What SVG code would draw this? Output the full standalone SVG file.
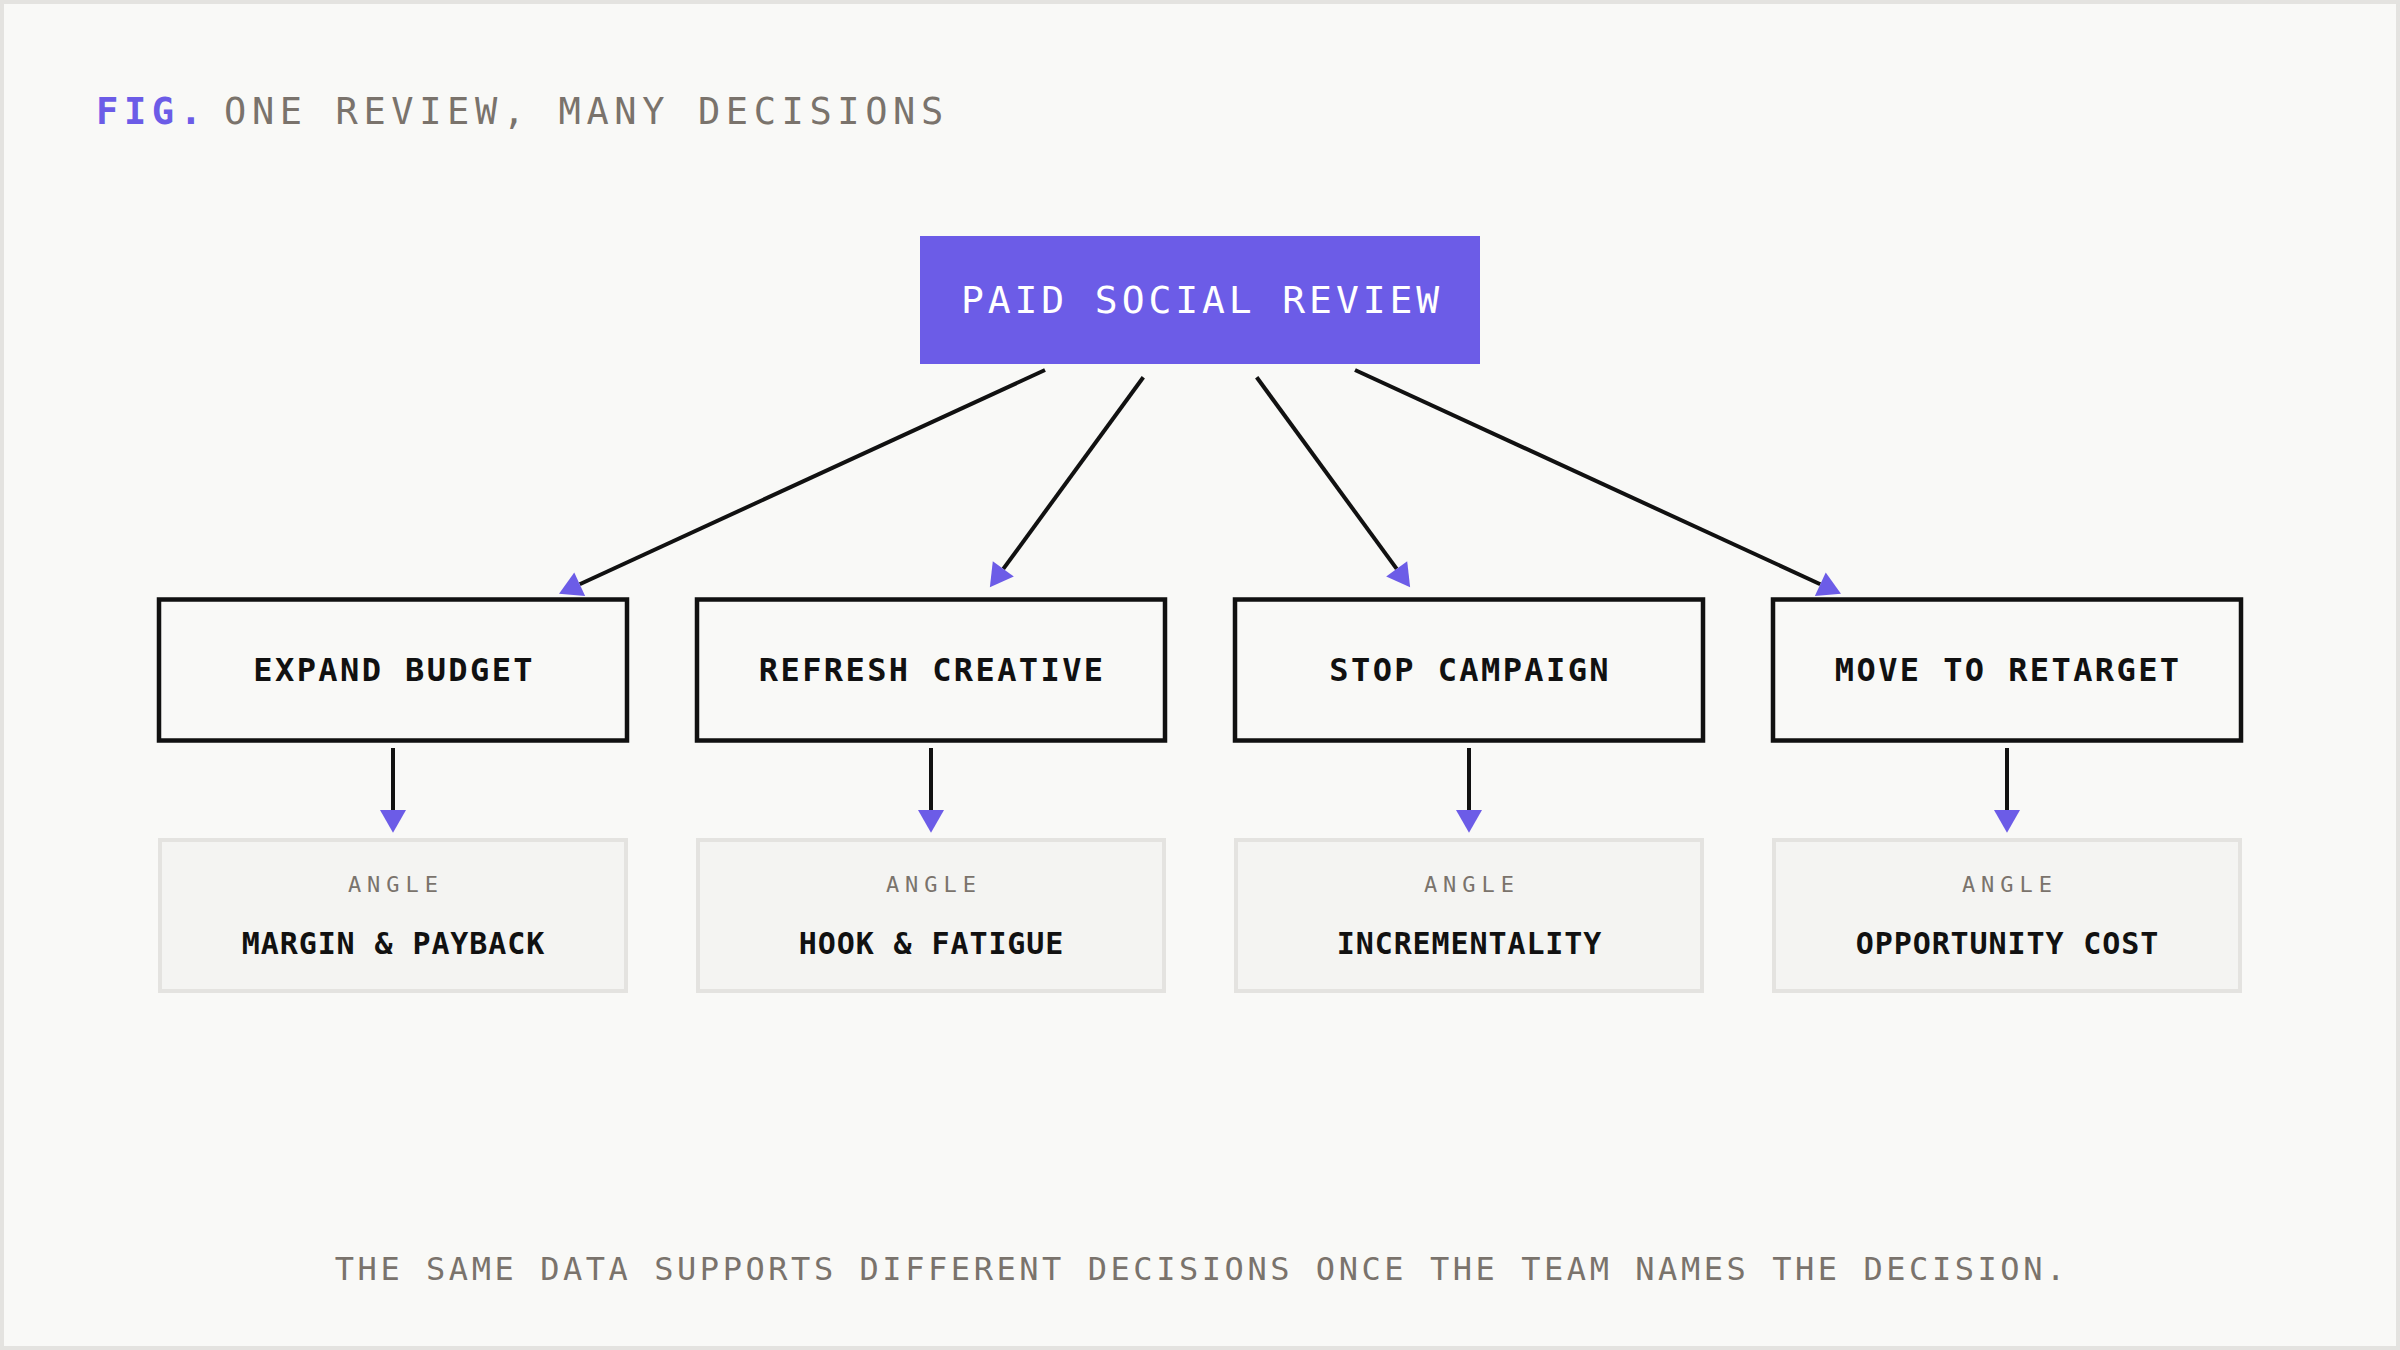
<svg xmlns="http://www.w3.org/2000/svg" width="2400" height="1350" viewBox="0 0 2400 1350">
  <defs>
    <style>
      text { font-family: "DejaVu Sans Mono", "Liberation Mono", monospace; }
      .frame { fill: #f9f9f7; stroke: #e4e3e0; stroke-width: 4; }
      .title-fig { fill: #6c5ce7; font-weight: 700; font-size: 37px; letter-spacing: 5.6px; }
      .title { fill: #7a736c; font-size: 37px; letter-spacing: 5.6px; }
      .root-box { fill: #6c5ce7; }
      .root-text { fill: #ffffff; font-size: 38px; letter-spacing: 3.9px; text-anchor: middle; }
      .decision-box { fill: #f9f9f7; stroke: #111111; stroke-width: 4.5; }
      .decision-text { fill: #111111; font-size: 32px; font-weight: 700; letter-spacing: 2.4px; text-anchor: middle; }
      .angle-box { fill: #f4f4f2; stroke: #e4e3e0; stroke-width: 4; }
      .angle-label { fill: #7a736c; font-size: 22px; letter-spacing: 6px; text-anchor: middle; }
      .angle-text { fill: #111111; font-size: 30px; font-weight: 700; letter-spacing: 0.9px; text-anchor: middle; }
      .footer { fill: #7a736c; font-size: 32px; letter-spacing: 3.55px; text-anchor: middle; }
      .edge { fill: none; stroke: #111111; stroke-width: 4; marker-end: url(#arrow); }
    </style>
    <marker id="arrow" markerUnits="userSpaceOnUse" markerWidth="24" markerHeight="26" refX="0" refY="12" viewBox="0 0 22 24" orient="auto" overflow="visible">
      <path d="M0,0 L21,12 L0,24 Z" fill="#6c5ce7"/>
    </marker>
  </defs>

  <rect class="frame" x="2" y="2" width="2396" height="1346"/>

  <g id="title">
    <text class="title-fig" x="96" y="124">FIG.</text>
    <text class="title" x="224" y="124">ONE REVIEW, MANY DECISIONS</text>
  </g>

  <g id="connectors">
    <path class="edge" d="M1045,370 L579.7,584.2"/>
    <path class="edge" d="M1143.3,377.3 L1003.3,568.9"/>
    <path class="edge" d="M1256.7,377.3 L1396.7,568.9"/>
    <path class="edge" d="M1355,370 L1820.3,584.2"/>
    <path class="edge" d="M393,748 L393,810"/>
    <path class="edge" d="M931,748 L931,810"/>
    <path class="edge" d="M1469,748 L1469,810"/>
    <path class="edge" d="M2007,748 L2007,810"/>
  </g>

  <g id="node-root">
    <rect class="root-box" x="920" y="236" width="560" height="128"/>
    <text class="root-text" x="1202" y="313">PAID SOCIAL REVIEW</text>
  </g>

  <g id="node-expand-budget">
    <rect class="decision-box" x="159" y="599.5" width="468" height="141"/>
    <text class="decision-text" x="394.2" y="681">EXPAND BUDGET</text>
  </g>
  <g id="node-refresh-creative">
    <rect class="decision-box" x="697" y="599.5" width="468" height="141"/>
    <text class="decision-text" x="932.2" y="681">REFRESH CREATIVE</text>
  </g>
  <g id="node-stop-campaign">
    <rect class="decision-box" x="1235" y="599.5" width="468" height="141"/>
    <text class="decision-text" x="1470.2" y="681">STOP CAMPAIGN</text>
  </g>
  <g id="node-move-to-retarget">
    <rect class="decision-box" x="1773" y="599.5" width="468" height="141"/>
    <text class="decision-text" x="2008.2" y="681">MOVE TO RETARGET</text>
  </g>

  <g id="angle-margin-payback">
    <rect class="angle-box" x="160" y="840" width="466" height="151"/>
    <text class="angle-label" x="396" y="892">ANGLE</text>
    <text class="angle-text" x="393.5" y="954">MARGIN &amp; PAYBACK</text>
  </g>
  <g id="angle-hook-fatigue">
    <rect class="angle-box" x="698" y="840" width="466" height="151"/>
    <text class="angle-label" x="934" y="892">ANGLE</text>
    <text class="angle-text" x="931.5" y="954">HOOK &amp; FATIGUE</text>
  </g>
  <g id="angle-incrementality">
    <rect class="angle-box" x="1236" y="840" width="466" height="151"/>
    <text class="angle-label" x="1472" y="892">ANGLE</text>
    <text class="angle-text" x="1469.5" y="954">INCREMENTALITY</text>
  </g>
  <g id="angle-opportunity-cost">
    <rect class="angle-box" x="1774" y="840" width="466" height="151"/>
    <text class="angle-label" x="2010" y="892">ANGLE</text>
    <text class="angle-text" x="2007.5" y="954">OPPORTUNITY COST</text>
  </g>

  <g id="footer">
    <text class="footer" x="1201.8" y="1280">THE SAME DATA SUPPORTS DIFFERENT DECISIONS ONCE THE TEAM NAMES THE DECISION.</text>
  </g>
</svg>
